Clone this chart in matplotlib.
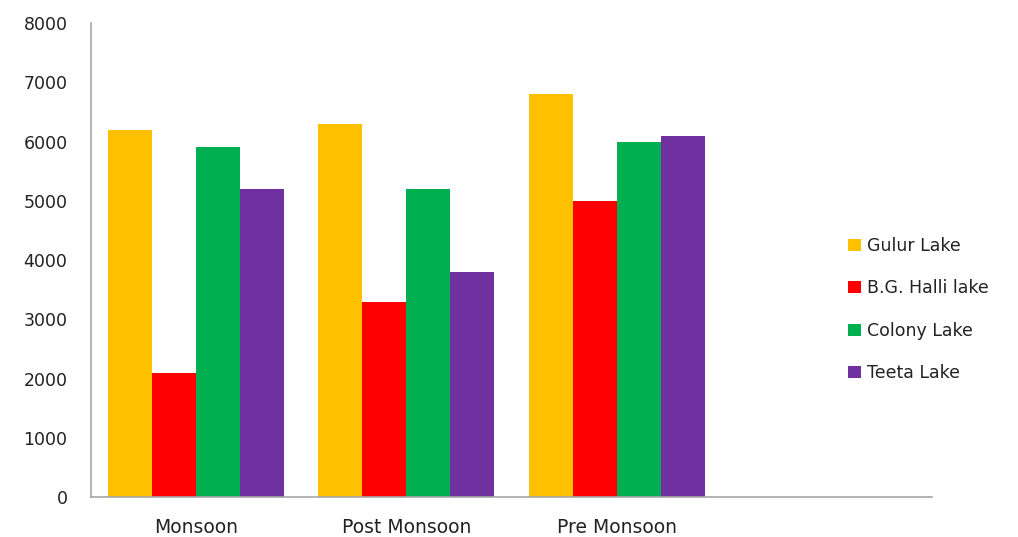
import numpy as np
import matplotlib
matplotlib.use("Agg")
import matplotlib.pyplot as plt

plt.rcParams['font.family'] = ['DejaVu Sans']

# === Données ===
seasons = ["Monsoon", "Post Monsoon", "Pre Monsoon"]
lakes = ["Gulur Lake", "B.G. Halli lake", "Colony Lake", "Teeta Lake"]
gulur = [6200, 6300, 6800]
bg_halli = [2100, 3300, 5000]
colony = [5900, 5200, 6000]
teeta = [5200, 3800, 6100]
colors = ["#FFC000", "#FF0000", "#00B050", "#7030A0"]

series = [gulur, bg_halli, colony, teeta]

fig = plt.figure(figsize=(10.18, 5.37), dpi=100)
ax = fig.add_axes([0.0894, 0.0745, 0.8261, 0.8825])

x = np.arange(len(seasons))
w = 0.2095
for i, (vals, name, c) in enumerate(zip(series, lakes, colors)):
    ax.bar(x + (i - 1.5) * w, vals, width=w, color=c, label=name)

ax.set_xlim(-0.5, 3.5)
ax.set_ylim(0, 8000)
ax.set_yticks(range(0, 8001, 1000))
ax.set_xticks(x)
ax.set_xticklabels(seasons)

for s in ["top", "right"]:
    ax.spines[s].set_visible(False)
for s in ["left", "bottom"]:
    ax.spines[s].set_color("#A6A6A6")
    ax.spines[s].set_linewidth(1.2)

ax.tick_params(axis="y", length=0, pad=17, labelsize=12.5, labelcolor="#222222")
ax.tick_params(axis="x", length=0, pad=15, labelsize=13.5, labelcolor="#222222")

ax.legend(loc="center left", bbox_to_anchor=(0.818, 0.4235), bbox_transform=fig.transFigure,
          frameon=False, fontsize=12.5, handlelength=0.7, handleheight=0.7,
          handletextpad=0.4, labelspacing=1.4, labelcolor="#222222")

fig.savefig("out.png", dpi=100)
